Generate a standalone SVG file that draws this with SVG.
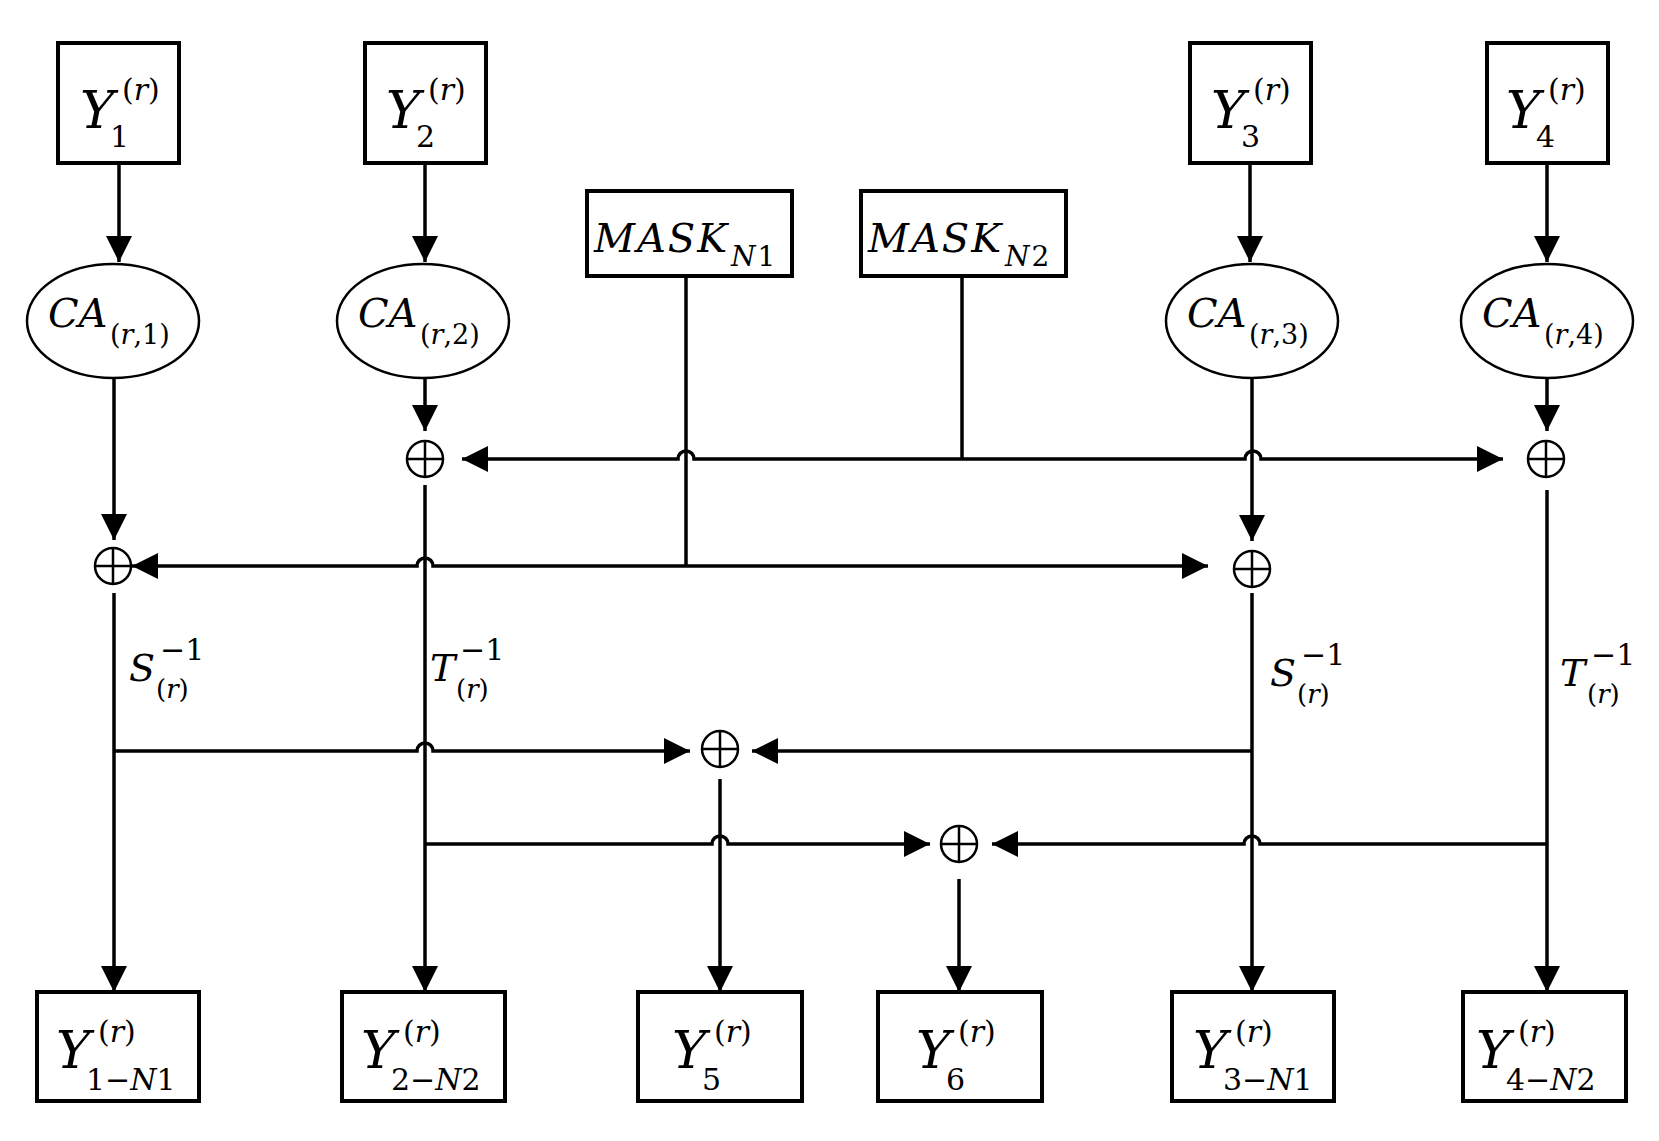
<svg xmlns="http://www.w3.org/2000/svg" width="1659" height="1141" viewBox="0 0 1659 1141">
<defs>
<marker id="ah" markerUnits="userSpaceOnUse" markerWidth="26" markerHeight="26" refX="26" refY="13" orient="auto"><path d="M0,0 L26,13 L0,26 z" fill="#000"/></marker>
</defs>
<style>
.box{fill:#fff;stroke:#000;stroke-width:4}
.ell{fill:#fff;stroke:#000;stroke-width:2.5}
.ln{fill:none;stroke:#000;stroke-width:3.5}
.ar{fill:none;stroke:#000;stroke-width:3.5;marker-end:url(#ah)}
.xor{fill:#fff;stroke:#000;stroke-width:2.5}
.xp{stroke:#000;stroke-width:2.5}
text{font-family:"DejaVu Serif","Liberation Serif",serif;fill:#000}
.it{font-style:italic}
.big{font-size:52px}
.sm{font-size:30px}
.ca{font-size:40px}
.cs{font-size:27px}
</style>
<rect width="1659" height="1141" fill="#fff"/>
<g id="connectors">
<path class="ar" d="M119 163 V262"/>
<path class="ar" d="M425 163 V262"/>
<path class="ar" d="M1250 163 V262"/>
<path class="ar" d="M1547 163 V262"/>
<path class="ar" d="M114 378 V540"/>
<path class="ar" d="M425 378 V431"/>
<path class="ar" d="M1252 378 V541"/>
<path class="ar" d="M1547 378 V431"/>
<path class="ln" d="M686 276 V566"/>
<path class="ln" d="M962 276 V459"/>
<path class="ar" d="M962 459 H694 A8 8 0 0 0 678 459 H462"/>
<path class="ar" d="M962 459 H1245 A8 8 0 0 1 1261 459 H1503"/>
<path class="ar" d="M686 566 H433 A8 8 0 0 0 417 566 H132"/>
<path class="ar" d="M686 566 H1208"/>
<path class="ar" d="M114 593 V992"/>
<path class="ar" d="M425 485 V992"/>
<path class="ar" d="M1252 593 V992"/>
<path class="ar" d="M1547 490 V992"/>
<path class="ar" d="M114 751 H417 A8 8 0 0 1 433 751 H690"/>
<path class="ar" d="M1252 751 H752"/>
<path class="ar" d="M425 844 H712 A8 8 0 0 1 728 844 H930"/>
<path class="ar" d="M1547 844 H1260 A8 8 0 0 0 1244 844 H992"/>
<path class="ar" d="M720 779 V992"/>
<path class="ar" d="M959 879 V992"/>
</g>
<g id="Y1"><rect class="box" x="58" y="43" width="121" height="120"/><text class="big it" x="80" y="128">Y</text><text class="sm" x="122" y="100">(<tspan class="it">r</tspan>)</text><text class="sm" x="110" y="147">1</text></g>
<g id="Y2"><rect class="box" x="365" y="43" width="121" height="120"/><text class="big it" x="386" y="128">Y</text><text class="sm" x="428" y="100">(<tspan class="it">r</tspan>)</text><text class="sm" x="416" y="147">2</text></g>
<g id="Y3"><rect class="box" x="1190" y="43" width="121" height="120"/><text class="big it" x="1211" y="128">Y</text><text class="sm" x="1253" y="100">(<tspan class="it">r</tspan>)</text><text class="sm" x="1241" y="147">3</text></g>
<g id="Y4"><rect class="box" x="1487" y="43" width="121" height="120"/><text class="big it" x="1506" y="128">Y</text><text class="sm" x="1548" y="100">(<tspan class="it">r</tspan>)</text><text class="sm" x="1536" y="147">4</text></g>
<g id="MASK1"><rect class="box" x="587" y="191" width="205" height="85"/><text class="it" font-size="40" letter-spacing="2" x="594" y="252">MASK</text><text class="it" font-size="28" letter-spacing="2" x="731" y="266">N<tspan font-style="normal">1</tspan></text></g>
<g id="MASK2"><rect class="box" x="861" y="191" width="205" height="85"/><text class="it" font-size="40" letter-spacing="2" x="868" y="252">MASK</text><text class="it" font-size="28" letter-spacing="2" x="1005" y="266">N<tspan font-style="normal">2</tspan></text></g>
<g id="CA1"><ellipse class="ell" cx="113" cy="321" rx="86" ry="57"/><text class="ca it" x="48" y="327">CA</text><text class="cs" x="110" y="344">(<tspan class="it">r</tspan>,1)</text></g>
<g id="CA2"><ellipse class="ell" cx="423" cy="321" rx="86" ry="57"/><text class="ca it" x="358" y="327">CA</text><text class="cs" x="420" y="344">(<tspan class="it">r</tspan>,2)</text></g>
<g id="CA3"><ellipse class="ell" cx="1252" cy="321" rx="86" ry="57"/><text class="ca it" x="1187" y="327">CA</text><text class="cs" x="1249" y="344">(<tspan class="it">r</tspan>,3)</text></g>
<g id="CA4"><ellipse class="ell" cx="1547" cy="321" rx="86" ry="57"/><text class="ca it" x="1482" y="327">CA</text><text class="cs" x="1544" y="344">(<tspan class="it">r</tspan>,4)</text></g>
<g id="X1"><circle class="xor" cx="113" cy="566" r="18"/><path class="xp" d="M95 566 H131 M113 548 V584"/></g>
<g id="X2"><circle class="xor" cx="425" cy="459" r="18"/><path class="xp" d="M407 459 H443 M425 441 V477"/></g>
<g id="X3"><circle class="xor" cx="1252" cy="569" r="18"/><path class="xp" d="M1234 569 H1270 M1252 551 V587"/></g>
<g id="X4"><circle class="xor" cx="1546" cy="459" r="18"/><path class="xp" d="M1528 459 H1564 M1546 441 V477"/></g>
<g id="X5"><circle class="xor" cx="720" cy="749" r="18"/><path class="xp" d="M702 749 H738 M720 731 V767"/></g>
<g id="X6"><circle class="xor" cx="959" cy="844" r="18"/><path class="xp" d="M941 844 H977 M959 826 V862"/></g>
<g id="labels">
<text class="it" font-size="38" x="129" y="681">S</text><text class="sm" x="160" y="660">−1</text><text font-size="26" x="156" y="698">(<tspan class="it">r</tspan>)</text>
<text class="it" font-size="38" x="430" y="681">T</text><text class="sm" x="460" y="660">−1</text><text font-size="26" x="456" y="698">(<tspan class="it">r</tspan>)</text>
<text class="it" font-size="38" x="1270" y="686">S</text><text class="sm" x="1301" y="665">−1</text><text font-size="26" x="1297" y="703">(<tspan class="it">r</tspan>)</text>
<text class="it" font-size="38" x="1560" y="686">T</text><text class="sm" x="1591" y="665">−1</text><text font-size="26" x="1587" y="703">(<tspan class="it">r</tspan>)</text>
</g>
<g id="Y1N1"><rect class="box" x="37" y="992" width="162" height="109"/><text class="big it" x="56" y="1068">Y</text><text class="sm" x="98" y="1042">(<tspan class="it">r</tspan>)</text><text class="sm" x="86" y="1090">1−<tspan class="it">N</tspan>1</text></g>
<g id="Y2N2"><rect class="box" x="342" y="992" width="163" height="109"/><text class="big it" x="361" y="1068">Y</text><text class="sm" x="403" y="1042">(<tspan class="it">r</tspan>)</text><text class="sm" x="391" y="1090">2−<tspan class="it">N</tspan>2</text></g>
<g id="Y5"><rect class="box" x="638" y="992" width="164" height="109"/><text class="big it" x="672" y="1068">Y</text><text class="sm" x="714" y="1042">(<tspan class="it">r</tspan>)</text><text class="sm" x="702" y="1090">5</text></g>
<g id="Y6"><rect class="box" x="878" y="992" width="164" height="109"/><text class="big it" x="916" y="1068">Y</text><text class="sm" x="958" y="1042">(<tspan class="it">r</tspan>)</text><text class="sm" x="946" y="1090">6</text></g>
<g id="Y3N1"><rect class="box" x="1172" y="992" width="162" height="109"/><text class="big it" x="1193" y="1068">Y</text><text class="sm" x="1235" y="1042">(<tspan class="it">r</tspan>)</text><text class="sm" x="1223" y="1090">3−<tspan class="it">N</tspan>1</text></g>
<g id="Y4N2"><rect class="box" x="1463" y="992" width="163" height="109"/><text class="big it" x="1476" y="1068">Y</text><text class="sm" x="1518" y="1042">(<tspan class="it">r</tspan>)</text><text class="sm" x="1506" y="1090">4−<tspan class="it">N</tspan>2</text></g>
</svg>
